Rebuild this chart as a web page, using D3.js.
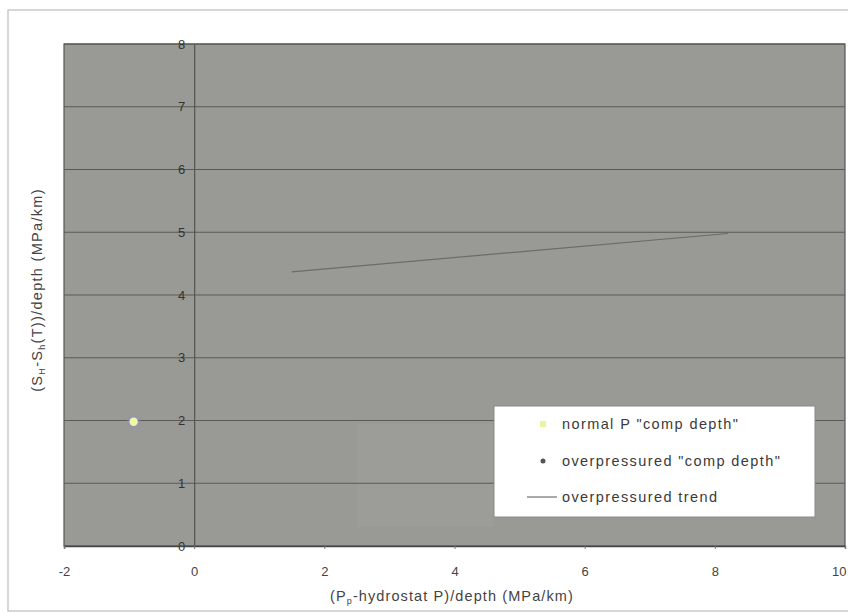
<!DOCTYPE html>
<html><head><meta charset="utf-8">
<script src="https://cdn.jsdelivr.net/npm/d3@7"></script>
<style>body{margin:0;background:#fff}svg{display:block;font-family:"Liberation Sans",Arial,sans-serif}</style>
</head><body><svg id="c" width="848" height="613"></svg>
<script>
const xTicks = [-2, 0, 2, 4, 6, 8, 10];
const yTicks = [0, 1, 2, 3, 4, 5, 6, 7, 8];
const normalX = [-0.93];
const normalY = [1.98];
const overX = [];
const overY = [];
const trendX = [1.5, 8.2];
const trendY = [4.37, 4.98];
const legendLabels = ['normal P "comp depth"', 'overpressured "comp depth"', 'overpressured trend'];

const svg = d3.select("#c");
const x = d3.scaleLinear().domain([-2, 10]).range([64, 845]);
const y = d3.scaleLinear().domain([0, 8]).range([546, 44]);
const fmt = d => String(d).replace("\u2212", "-");

// outer border
svg.append("rect").attr("x", 8).attr("y", 10).attr("width", 845).attr("height", 601)
  .attr("fill", "#fff").attr("stroke", "#bdbdbd").attr("stroke-width", 1.2);

// plot area
svg.append("rect").attr("x", x(-2)).attr("y", y(8)).attr("width", x(10) - x(-2)).attr("height", y(0) - y(8))
  .attr("fill", "#999a95").attr("stroke", "#555").attr("stroke-width", 1.2);

// faint lighter patch (obscured label)
svg.append("rect").attr("x", x(2.5)).attr("y", y(1.95)).attr("width", x(4.6) - x(2.5)).attr("height", y(0.3) - y(1.95))
  .attr("fill", "#9c9d98");

// gridlines
svg.append("g").selectAll("line").data(yTicks.slice(1)).join("line")
  .attr("x1", x(-2)).attr("x2", x(10)).attr("y1", d => y(d)).attr("y2", d => y(d))
  .attr("stroke", "#5a5a55").attr("stroke-width", 1.2);

// y axis at x=0
const yAxis = d3.axisLeft(y).tickValues(yTicks).tickSize(0).tickPadding(9).tickFormat(fmt);
const gy = svg.append("g").attr("transform", `translate(${x(0)},0)`).call(yAxis);
gy.select(".domain").attr("stroke", "#55554f").attr("stroke-width", 1.2);
gy.selectAll("text").attr("font-size", 13).attr("fill", "#333").attr("font-family", "Liberation Sans, Arial");

// x axis at y=0
const xAxis = d3.axisBottom(x).tickValues(xTicks).tickSize(3).tickPadding(18).tickFormat(fmt);
const gx = svg.append("g").attr("transform", `translate(0,${y(0)})`).call(xAxis);
gx.select(".domain").attr("stroke", "#444").attr("stroke-width", 1.4);
gx.selectAll(".tick line").attr("stroke", "#777");
gx.selectAll(".tick text").attr("font-size", 13).attr("fill", "#444").attr("font-family", "Liberation Sans, Arial");
gx.selectAll(".tick").filter(d => d === 10).select("text").attr("text-anchor", "end").attr("x", 1);

// trend line
svg.append("path").datum(trendX.map((d, i) => [d, trendY[i]]))
  .attr("d", d3.line().x(d => x(d[0])).y(d => y(d[1])))
  .attr("fill", "none").attr("stroke", "#6c6c67").attr("stroke-width", 1.2);

// overpressured points
svg.append("g").selectAll("circle").data(overX.map((d, i) => [d, overY[i]])).join("circle")
  .attr("cx", d => x(d[0])).attr("cy", d => y(d[1])).attr("r", 3).attr("fill", "#555");

// normal points
const np = svg.append("g").selectAll("g").data(normalX.map((d, i) => [d, normalY[i]])).join("g");
np.append("circle").attr("cx", d => x(d[0])).attr("cy", d => y(d[1])).attr("r", 7).attr("fill", "#8f90c8").attr("opacity", 0.4);
np.append("circle").attr("cx", d => x(d[0])).attr("cy", d => y(d[1])).attr("r", 4.2).attr("fill", "#f2f7a8");

// legend
const lg = svg.append("g");
lg.append("rect").attr("x", 494).attr("y", 406).attr("width", 321).attr("height", 111)
  .attr("fill", "#fff").attr("stroke", "#8a8a86").attr("stroke-width", 1);
const ly = [424, 461, 497];
lg.append("rect").attr("x", 540).attr("y", ly[0] - 3).attr("width", 6).attr("height", 6).attr("fill", "#e8f59a");
lg.append("circle").attr("cx", 543).attr("cy", ly[1]).attr("r", 2.5).attr("fill", "#555");
lg.append("line").attr("x1", 527).attr("x2", 557).attr("y1", ly[2]).attr("y2", ly[2]).attr("stroke", "#555").attr("stroke-width", 1);
lg.selectAll("text").data(legendLabels).join("text")
  .attr("x", 562).attr("y", (d, i) => ly[i] + 5).attr("font-size", 14.5).attr("letter-spacing", 1.4)
  .attr("fill", "#3a3a3a").text(d => d);

// x label
const xl = svg.append("text").attr("x", 452).attr("y", 601).attr("text-anchor", "middle").attr("font-size", 14.5)
  .attr("letter-spacing", 1.1).attr("fill", "#444");
xl.append("tspan").text("(P");
xl.append("tspan").attr("font-size", 9).attr("dy", 3).text("p");
xl.append("tspan").attr("dy", -3).text("-hydrostat P)/depth (MPa/km)");

// y label
const yl = svg.append("text").attr("transform", "translate(42,290) rotate(-90)").attr("text-anchor", "middle").attr("font-size", 14.5)
  .attr("letter-spacing", 1.3).attr("fill", "#444");
yl.append("tspan").text("(S");
yl.append("tspan").attr("font-size", 9).attr("dy", 3).text("H");
yl.append("tspan").attr("dy", -3).text("-S");
yl.append("tspan").attr("font-size", 9).attr("dy", 3).text("h");
yl.append("tspan").attr("dy", -3).text("(T))/depth (MPa/km)");
</script></body></html>
